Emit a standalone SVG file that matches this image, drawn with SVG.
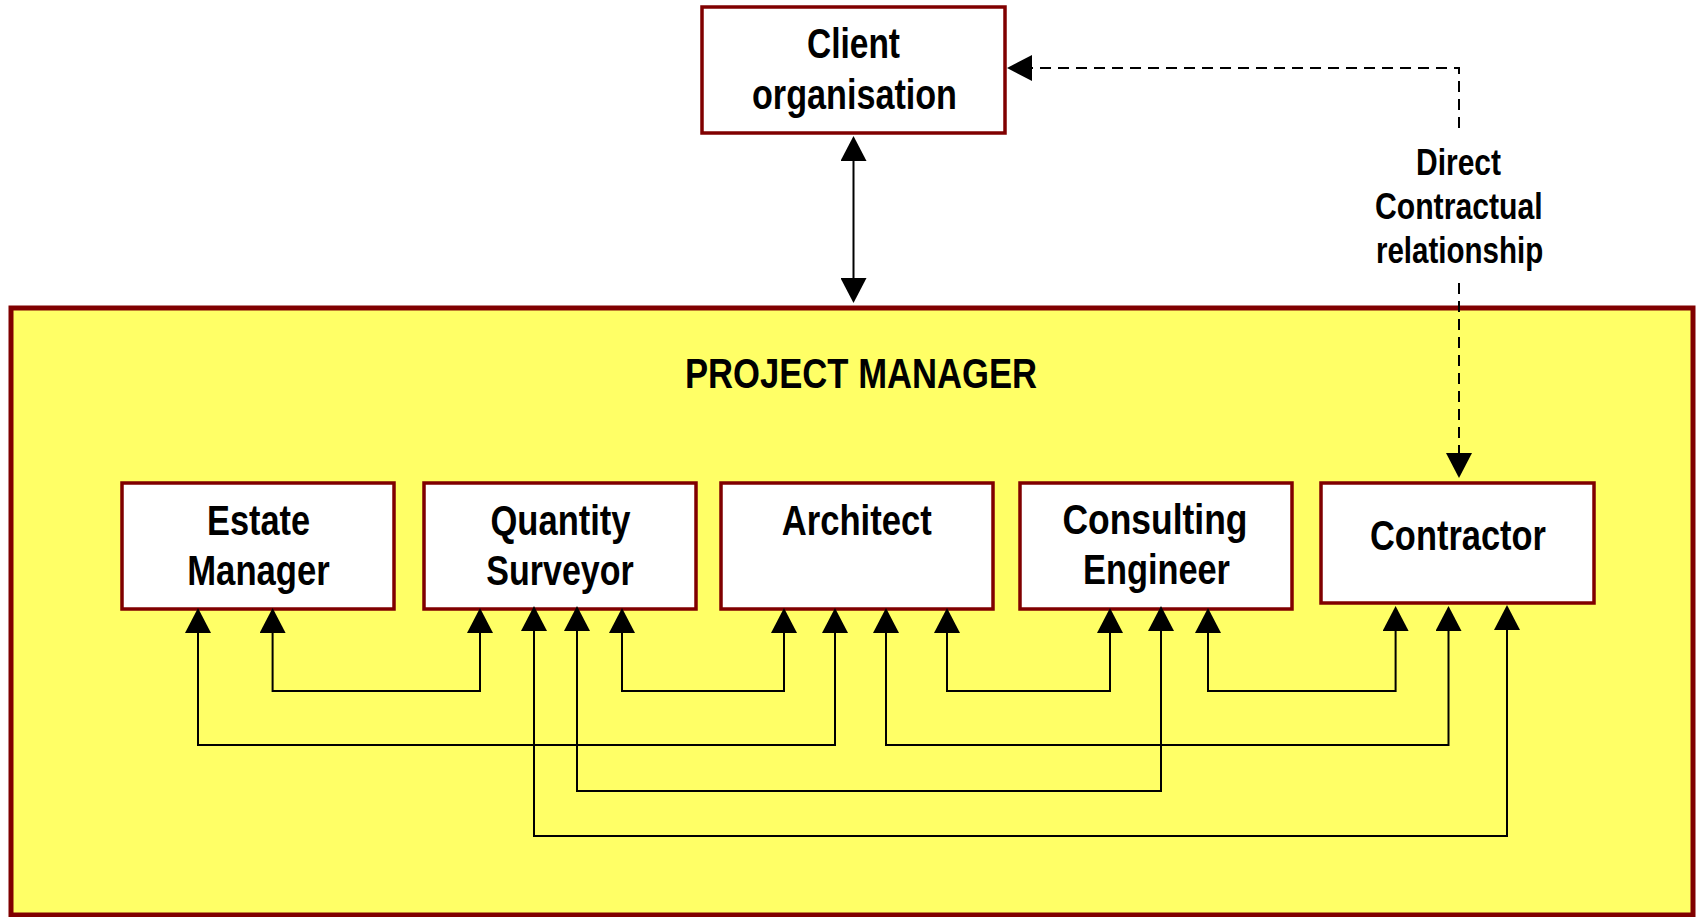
<svg xmlns="http://www.w3.org/2000/svg" width="1696" height="917" viewBox="0 0 1696 917">
<style>
.box{fill:#FFFFFF;stroke:#800000;stroke-width:3.5}
.pm{fill:#FFFF66;stroke:#800000;stroke-width:5}
.t{font-family:"Liberation Sans Narrow","Liberation Sans",Arial,sans-serif;font-weight:bold;font-size:42px;fill:#000;text-anchor:middle}
.s{font-size:37px}
.c{fill:none;stroke:#000;stroke-width:2}
.d{fill:none;stroke:#000;stroke-width:2;stroke-dasharray:11 7}
</style>
<defs>
<marker id="ah" markerUnits="userSpaceOnUse" viewBox="0 0 25 26" markerWidth="25" markerHeight="26" refX="17" refY="13" orient="auto-start-reverse">
<path d="M0,0 L25,13 L0,26 z" fill="#000"/>
</marker>
</defs>
<g id="project-manager">
<rect class="pm" x="11" y="308" width="1682" height="607"/>
<text class="t" x="861" y="388" textLength="352" lengthAdjust="spacingAndGlyphs">PROJECT MANAGER</text>
</g>
<g id="client">
<rect class="box" x="702" y="7" width="303" height="126"/>
<text class="t" x="853.5" y="58" textLength="93" lengthAdjust="spacingAndGlyphs">Client</text>
<text class="t" x="854.5" y="109" textLength="205" lengthAdjust="spacingAndGlyphs">organisation</text>
</g>
<g id="estate-manager">
<rect class="box" x="122" y="483" width="272" height="126"/>
<text class="t" x="258.5" y="535" textLength="103" lengthAdjust="spacingAndGlyphs">Estate</text>
<text class="t" x="258.5" y="585" textLength="142.5" lengthAdjust="spacingAndGlyphs">Manager</text>
</g>
<g id="quantity-surveyor">
<rect class="box" x="424" y="483" width="272" height="126"/>
<text class="t" x="560.5" y="534.5" textLength="140" lengthAdjust="spacingAndGlyphs">Quantity</text>
<text class="t" x="560" y="584.5" textLength="147.5" lengthAdjust="spacingAndGlyphs">Surveyor</text>
</g>
<g id="architect">
<rect class="box" x="721" y="483" width="272" height="126"/>
<text class="t" x="856.7" y="534.5" textLength="150" lengthAdjust="spacingAndGlyphs">Architect</text>
</g>
<g id="consulting-engineer">
<rect class="box" x="1020" y="483" width="272" height="126"/>
<text class="t" x="1155" y="534" textLength="185" lengthAdjust="spacingAndGlyphs">Consulting</text>
<text class="t" x="1156.5" y="584" textLength="147" lengthAdjust="spacingAndGlyphs">Engineer</text>
</g>
<g id="contractor">
<rect class="box" x="1321" y="483" width="273" height="120"/>
<text class="t" x="1458" y="550" textLength="176" lengthAdjust="spacingAndGlyphs">Contractor</text>
</g>
<g id="direct-label">
<text class="t s" x="1458.5" y="175" textLength="85" lengthAdjust="spacingAndGlyphs">Direct</text>
<text class="t s" x="1458.8" y="219" textLength="167.7" lengthAdjust="spacingAndGlyphs">Contractual</text>
<text class="t s" x="1459.6" y="263" textLength="167.3" lengthAdjust="spacingAndGlyphs">relationship</text>
</g>
<g id="connectors">
<path class="c" d="M853.5,144 V295" marker-start="url(#ah)" marker-end="url(#ah)"/>
<path class="d" d="M1459,128 V68 H1015" marker-end="url(#ah)"/>
<path class="d" d="M1459,283 V470" marker-end="url(#ah)"/>
<path class="c" d="M272.6,616 V691 H480 V616" marker-start="url(#ah)" marker-end="url(#ah)"/>
<path class="c" d="M622,616 V691 H784 V616" marker-start="url(#ah)" marker-end="url(#ah)"/>
<path class="c" d="M947,616 V691 H1110 V616" marker-start="url(#ah)" marker-end="url(#ah)"/>
<path class="c" d="M1208,616 V691 H1395.6 V614" marker-start="url(#ah)" marker-end="url(#ah)"/>
<path class="c" d="M198,616 V745 H835 V616" marker-start="url(#ah)" marker-end="url(#ah)"/>
<path class="c" d="M886,616 V745 H1448.5 V614" marker-start="url(#ah)" marker-end="url(#ah)"/>
<path class="c" d="M577,614 V791 H1161 V614" marker-start="url(#ah)" marker-end="url(#ah)"/>
<path class="c" d="M534,614 V836 H1507 V613" marker-start="url(#ah)" marker-end="url(#ah)"/>
</g>
</svg>
